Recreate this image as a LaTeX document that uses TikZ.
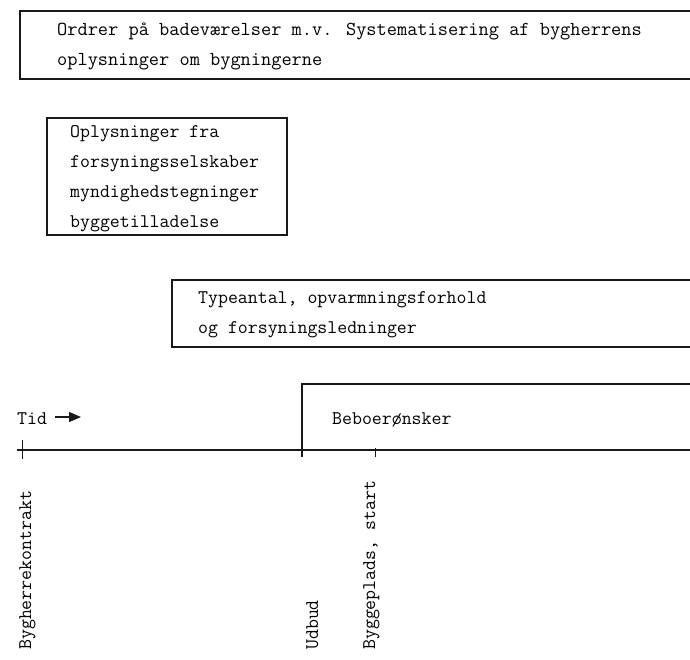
\documentclass[tikz,border=0pt]{standalone}
\usetikzlibrary{arrows.meta}
\begin{document}
\begin{tikzpicture}[x=1pt,y=-1pt,
  txt/.style={font=\fontsize{19.3}{30}\selectfont\ttfamily, inner sep=0pt, anchor=base west, text=black},
  txtbig/.style={txt, font=\fontsize{19.8}{30}\selectfont\ttfamily},
  frame/.style={line width=1.2pt, draw=black!90},
  vlabel/.style={txt, rotate=90, anchor=base west}]
\useasboundingbox (0,0) rectangle (690,659);
% top box (open to the right)
\coordinate (a1) at (690,11);
\coordinate (a2) at (20,11);
\coordinate (a3) at (20,79);
\coordinate (a4) at (690,79);
\draw[frame] (a1) -- (a2) -- (a3) -- (a4);
\node[txtbig] (l1) at (57,35) {Ordrer på badeværelser m.v. Systematisering af bygherrens};
\node[txtbig] (l2) at (57,65) {oplysninger om bygningerne};
% box 2
\coordinate (b1) at (47,118);
\coordinate (b2) at (287,235);
\draw[frame] (b1) rectangle (b2);
\node[txt] (m1) at (70,137) {Oplysninger fra};
\node[txt] (m2) at (70,167) {forsyningsselskaber};
\node[txt] (m3) at (70,197) {myndighedstegninger};
\node[txt] (m4) at (70,227) {byggetilladelse};
% box 3 (open to the right)
\coordinate (c1) at (690,280);
\coordinate (c2) at (172,280);
\coordinate (c3) at (172,347);
\coordinate (c4) at (690,347);
\draw[frame] (c1) -- (c2) -- (c3) -- (c4);
\node[txt] (n1) at (198,303) {Typeantal, opvarmningsforhold};
\node[txt] (n2) at (198,333) {og forsyningsledninger};
% time line
\node[txt] (tid) at (17,424) {Tid};
\coordinate (ar0) at (55,417);
\coordinate (ar1) at (81,417);
\draw[line width=1.2pt, black!90, -{Triangle[length=12pt,width=10pt]}] (ar0) -- (ar1);
\coordinate (t0) at (17,450);
\coordinate (t1) at (690,450);
\draw[frame] (t0) -- (t1);
\coordinate (k1a) at (22.7,440);
\coordinate (k1b) at (22.7,459);
\draw[frame] (k1a) -- (k1b);
\coordinate (k3a) at (375.5,448);
\coordinate (k3b) at (375.5,457);
\draw[frame] (k3a) -- (k3b);
% Beboerønsker box
\coordinate (d1) at (690,384);
\coordinate (d2) at (302,384);
\coordinate (d3) at (302,457);
\draw[frame] (d1) -- (d2) -- (d3);
\node[txt] (beb) at (332,424) {Beboerønsker};
% vertical labels
\node[vlabel] (v1) at (31,650) {Bygherrekontrakt};
\node[vlabel] (v2) at (318,650) {Udbud};
\node[vlabel] (v3) at (375,650) {Byggeplads, start};
\end{tikzpicture}
\end{document}
